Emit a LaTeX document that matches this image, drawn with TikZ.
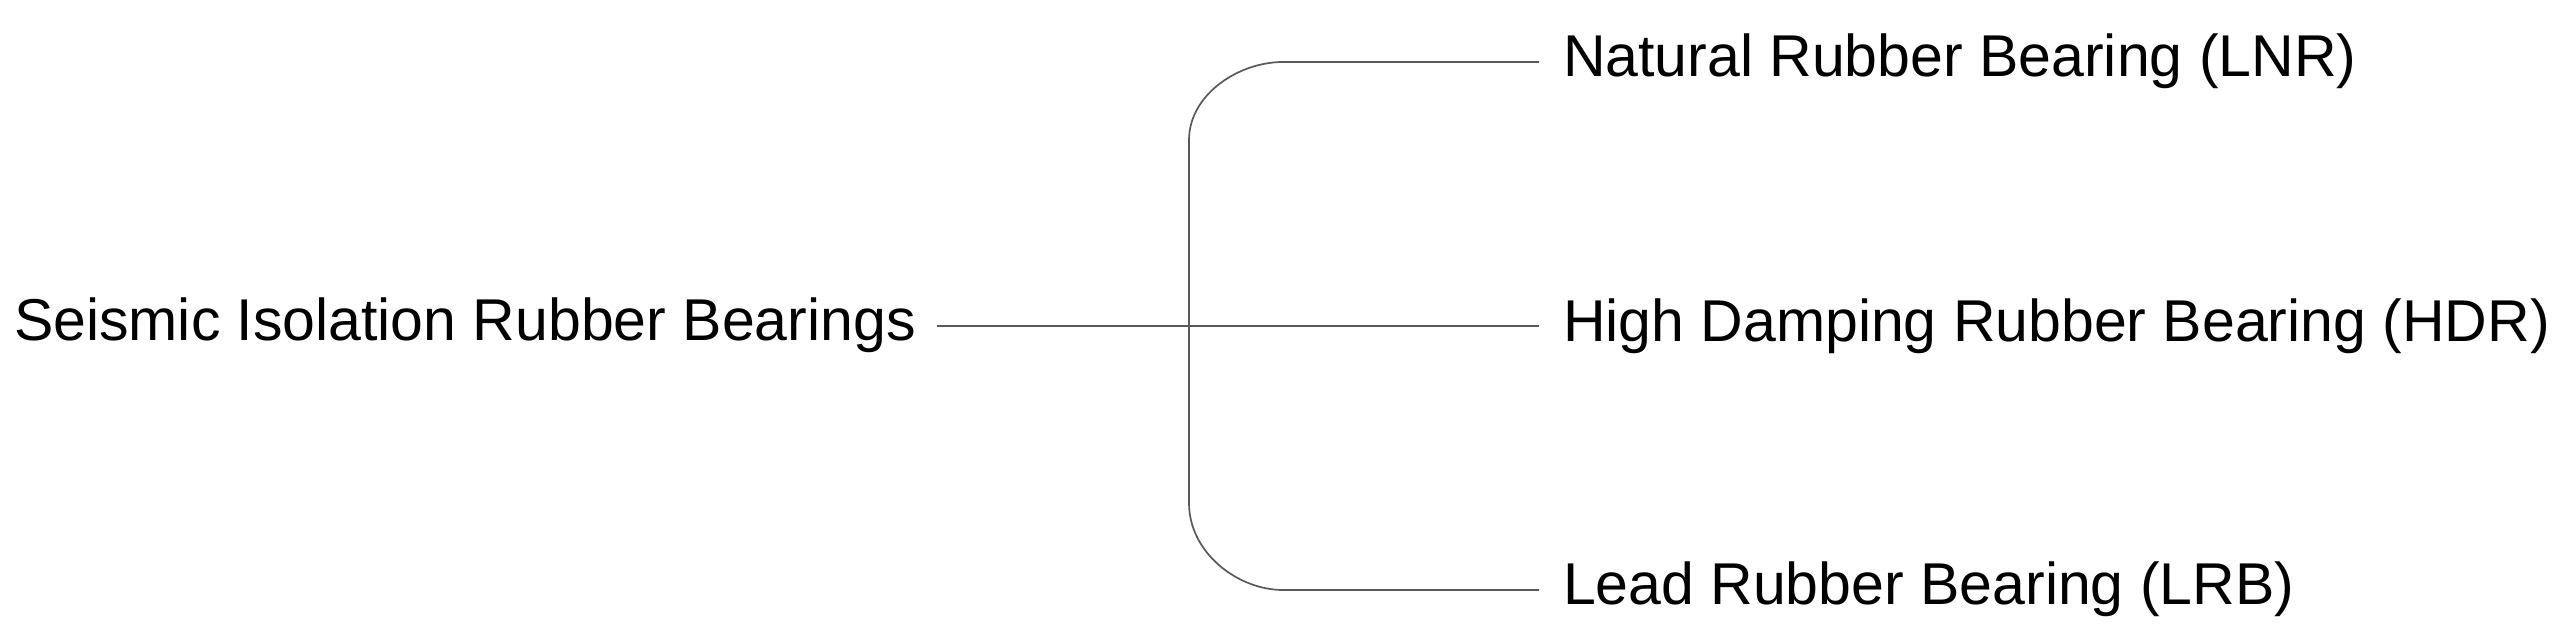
\documentclass[tikz,border=0pt]{standalone}
\usepackage{fontspec}
\setmainfont{Liberation Sans}
\begin{document}
\begin{tikzpicture}[x=0.5pt,y=-0.5pt,
  lbl/.style={anchor=base west, inner sep=0pt, outer sep=0pt, font=\fontsize{29.5}{35}\selectfont, text=black},
  conn/.style={draw=black!65, line width=0.85pt}]
\useasboundingbox (0,0) rectangle (2560,635);
\node[lbl] (root) at (14,341) {Seismic Isolation Rubber Bearings};
\node[lbl] (lnr) at (1563,77) {Natural Rubber Bearing (LNR)};
\node[lbl] (hdr) at (1563,342) {High Damping Rubber Bearing (HDR)};
\node[lbl] (lrb) at (1563,605) {Lead Rubber Bearing (LRB)};
\coordinate (j) at (1189,326);
\draw[conn] ([shift={(21,-15)}]root.base east) -- ([shift={(-24,-16)}]hdr.base west);
\draw[conn] (j) -- (1189,140) .. controls (1189,95) and (1238,62) .. (1283,62) -- ([shift={(-24,-15)}]lnr.base west);
\draw[conn] (j) -- (1189,503) .. controls (1189,553) and (1238,590) .. (1283,590) -- ([shift={(-24,-15)}]lrb.base west);
\end{tikzpicture}
\end{document}
